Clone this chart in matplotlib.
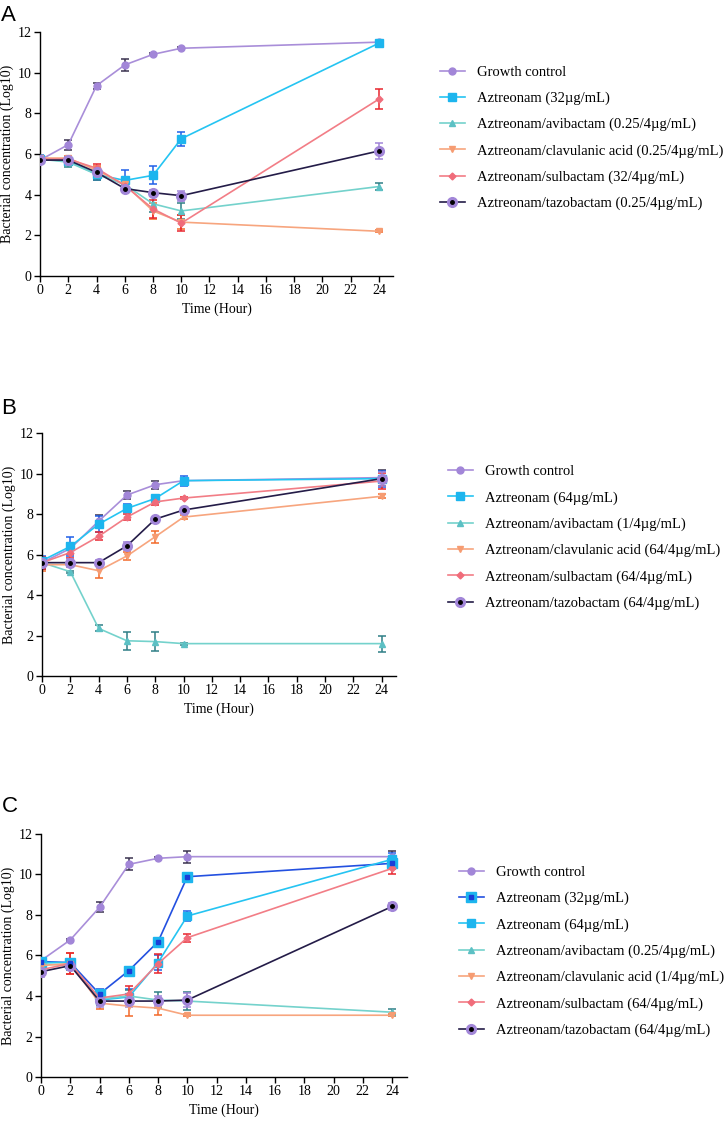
import matplotlib
matplotlib.use("Agg")
import matplotlib.pyplot as plt

plt.rcParams['font.family'] = ['Liberation Serif', 'DejaVu Serif']

hours = [0, 2, 4, 6, 8, 10, 24]

# ---- panel A
a_growth = [5.7, 6.46, 9.36, 10.38, 10.9, 11.2, 11.5]
a_growth_sd = [0.1, 0.25, 0.15, 0.3, 0.05, 0.05, 0.05]
a_azt32 = [5.75, 5.65, 5.0, 4.7, 4.95, 6.75, 11.45]
a_azt32_sd = [0.2, 0.2, 0.3, 0.5, 0.45, 0.35, 0.05]
a_avi = [5.75, 5.6, 5.0, 4.5, 3.55, 3.2, 4.4]
a_avi_sd = [0.15, 0.25, 0.3, 0.2, 0.4, 0.4, 0.15]
a_clav = [5.8, 5.8, 5.2, 4.5, 3.2, 2.65, 2.2]
a_clav_sd = [0.1, 0.1, 0.2, 0.2, 0.4, 0.35, 0.05]
a_sul = [5.75, 5.75, 5.3, 4.45, 3.3, 2.6, 8.7]
a_sul_sd = [0.1, 0.1, 0.2, 0.2, 0.45, 0.4, 0.5]
a_taz = [5.7, 5.7, 5.1, 4.3, 4.1, 3.95, 6.15]
a_taz_sd = [0.15, 0.15, 0.2, 0.15, 0.15, 0.25, 0.4]
a_labels = ["Growth control", "Aztreonam (32µg/mL)", "Aztreonam/avibactam (0.25/4µg/mL)",
            "Aztreonam/clavulanic acid (0.25/4µg/mL)", "Aztreonam/sulbactam (32/4µg/mL)",
            "Aztreonam/tazobactam (0.25/4µg/mL)"]

# ---- panel B
b_growth = [5.6, 6.3, 7.65, 8.94, 9.45, 9.65, 9.8]
b_growth_sd = [0.3, 0.25, 0.3, 0.2, 0.2, 0.1, 0.4]
b_azt64 = [5.7, 6.4, 7.5, 8.28, 8.77, 9.65, 9.75]
b_azt64_sd = [0.25, 0.45, 0.4, 0.2, 0.1, 0.25, 0.4]
b_avi = [5.6, 5.15, 2.35, 1.74, 1.7, 1.6, 1.6]
b_avi_sd = [0.25, 0.05, 0.15, 0.45, 0.45, 0.05, 0.4]
b_clav = [5.5, 5.5, 5.2, 5.93, 6.88, 7.85, 8.88]
b_clav_sd = [0.3, 0.1, 0.35, 0.2, 0.3, 0.1, 0.1]
b_sul = [5.6, 6.1, 6.9, 7.85, 8.6, 8.79, 9.63]
b_sul_sd = [0.3, 0.25, 0.2, 0.15, 0.15, 0.05, 0.4]
b_taz = [5.6, 5.6, 5.6, 6.43, 7.75, 8.2, 9.75]
b_taz_sd = [0.15, 0.2, 0.15, 0.2, 0.1, 0.1, 0.35]
b_labels = ["Growth control", "Aztreonam (64µg/mL)", "Aztreonam/avibactam (1/4µg/mL)",
            "Aztreonam/clavulanic acid (64/4µg/mL)", "Aztreonam/sulbactam (64/4µg/mL)",
            "Aztreonam/tazobactam (64/4µg/mL)"]

# ---- panel C
c_growth = [5.75, 6.77, 8.38, 10.5, 10.8, 10.88, 10.88]
c_growth_sd = [0.1, 0.05, 0.25, 0.3, 0.05, 0.3, 0.3]
c_azt32 = [5.7, 5.65, 4.1, 5.25, 6.68, 9.89, 10.55]
c_azt32_sd = [0.2, 0.2, 0.25, 0.1, 0.1, 0.1, 0.3]
c_azt64 = [5.65, 5.65, 3.8, 3.95, 5.65, 7.95, 10.75]
c_azt64_sd = [0.15, 0.2, 0.2, 0.4, 0.35, 0.25, 0.3]
c_avi = [5.6, 5.5, 3.85, 4.0, 3.8, 3.75, 3.2]
c_avi_sd = [0.15, 0.2, 0.3, 0.3, 0.4, 0.45, 0.15]
c_clav = [5.5, 5.6, 3.65, 3.5, 3.4, 3.05, 3.05]
c_clav_sd = [0.2, 0.5, 0.3, 0.5, 0.35, 0.05, 0.05]
c_sul = [5.3, 5.6, 3.9, 4.1, 5.6, 6.88, 10.3]
c_sul_sd = [0.2, 0.5, 0.25, 0.4, 0.45, 0.2, 0.3]
c_taz = [5.2, 5.5, 3.75, 3.75, 3.75, 3.8, 8.42]
c_taz_sd = [0.25, 0.15, 0.3, 0.3, 0.25, 0.35, 0.15]
c_labels = ["Growth control", "Aztreonam (32µg/mL)", "Aztreonam (64µg/mL)",
            "Aztreonam/avibactam (0.25/4µg/mL)", "Aztreonam/clavulanic acid (1/4µg/mL)",
            "Aztreonam/sulbactam (64/4µg/mL)", "Aztreonam/tazobactam (64/4µg/mL)"]

# style per series kind: line colour, marker, marker colour, marker size, errorbar colour
styles = {
    "growth": dict(color='#A98ED9', marker='o', mfc='#A286D8', ms=5, ecol='#3A3350'),
    "azt": dict(color='#25C4F2', marker='s', mfc='#1DB5EE', ms=6, ecol='#2060E8'),
    "azt32c": dict(color='#2350E0', marker='s', mfc='#1DB5EE', ms=7, ecol='#2350E0'),
    "avi": dict(color='#74D2CC', marker='^', mfc='#5CC0C4', ms=5, ecol='#2F7F86'),
    "clav": dict(color='#F7A57E', marker='v', mfc='#F69C72', ms=5, ecol='#F26A2A'),
    "sul": dict(color='#F27D86', marker='D', mfc='#F06C7A', ms=3.5, ecol='#E8262E'),
    "taz": dict(color='#241C48', marker='o', mfc='#A286D8', ms=7, ecol='#A286D8'),
}


def draw(ax, x, y, sd, kind):
    st = styles[kind]
    ax.errorbar(x, y, yerr=sd, fmt='none', ecolor=st['ecol'], elinewidth=1.1,
                capsize=3, capthick=1.1, zorder=2)
    h, = ax.plot(x, y, color=st['color'], lw=1.2, marker=st['marker'], ms=st['ms'],
                 mfc=st['mfc'], mec=st['mfc'], zorder=3)
    if kind == "taz":
        h2, = ax.plot(x, y, ls='none', marker='o', ms=2.5, color='black', zorder=4)
        return (h, h2)
    if kind == "azt32c":
        h2, = ax.plot(x, y, ls='none', marker='s', ms=3, color='#1A3ED8', zorder=4)
        return (h, h2)
    return h


def style_axes(ax, xmax):
    ax.set_xlim(0, xmax)
    ax.set_ylim(0, 12)
    ax.set_xticks(range(0, 25, 2))
    ax.set_yticks(range(0, 13, 2))
    for s in ['top', 'right']:
        ax.spines[s].set_visible(False)
    for s in ['left', 'bottom']:
        ax.spines[s].set_linewidth(1.0)
    ax.tick_params(direction='out', length=4, width=1.0, labelsize=10, pad=2)
    ax.set_xlabel("Time (Hour)", fontsize=10, labelpad=4)
    ax.set_ylabel("Bacterial concentration (Log10)", fontsize=10, labelpad=3)
    for lab in ax.get_xticklabels() + ax.get_yticklabels():
        lab.set_clip_on(False)
    ax.spines['left'].set_bounds(0, 12)


fig = plt.figure(figsize=(7.25, 11.22), dpi=100)

panels = [
    ("A", [0.0552, 0.754, 0.487, 0.2175], 25,
     [(a_growth, a_growth_sd, "growth"), (a_azt32, a_azt32_sd, "azt"), (a_avi, a_avi_sd, "avi"),
      (a_clav, a_clav_sd, "clav"), (a_sul, a_sul_sd, "sul"), (a_taz, a_taz_sd, "taz")],
     a_labels, (0.607, 0.877)),
    ("B", [0.058, 0.3975, 0.488, 0.2165], 25,
     [(b_growth, b_growth_sd, "growth"), (b_azt64, b_azt64_sd, "azt"), (b_avi, b_avi_sd, "avi"),
      (b_clav, b_clav_sd, "clav"), (b_sul, b_sul_sd, "sul"), (b_taz, b_taz_sd, "taz")],
     b_labels, (0.618, 0.521)),
    ("C", [0.0566, 0.0401, 0.5044, 0.2166], 25,
     [(c_growth, c_growth_sd, "growth"), (c_azt32, c_azt32_sd, "azt32c"), (c_azt64, c_azt64_sd, "azt"),
      (c_avi, c_avi_sd, "avi"), (c_clav, c_clav_sd, "clav"), (c_sul, c_sul_sd, "sul"),
      (c_taz, c_taz_sd, "taz")],
     c_labels, (0.633, 0.152)),
]

letter_y = {"A": 0.986, "B": 0.636, "C": 0.281}

for letter, rect, xmax, series, labels, anchor in panels:
    ax = fig.add_axes(rect)
    handles = [draw(ax, hours, y, sd, kind) for y, sd, kind in series]
    style_axes(ax, xmax)
    ax.legend(handles, labels, loc='center left', bbox_to_anchor=anchor,
              bbox_transform=fig.transFigure, frameon=False, fontsize=10.5,
              handlelength=1.7, handletextpad=0.85, labelspacing=0.88,
              borderpad=0, borderaxespad=0)
    fig.text(0.002, letter_y[letter], letter, fontsize=16, family='Liberation Sans',
             va='center', ha='left')

fig.savefig("out.png", dpi=100)
